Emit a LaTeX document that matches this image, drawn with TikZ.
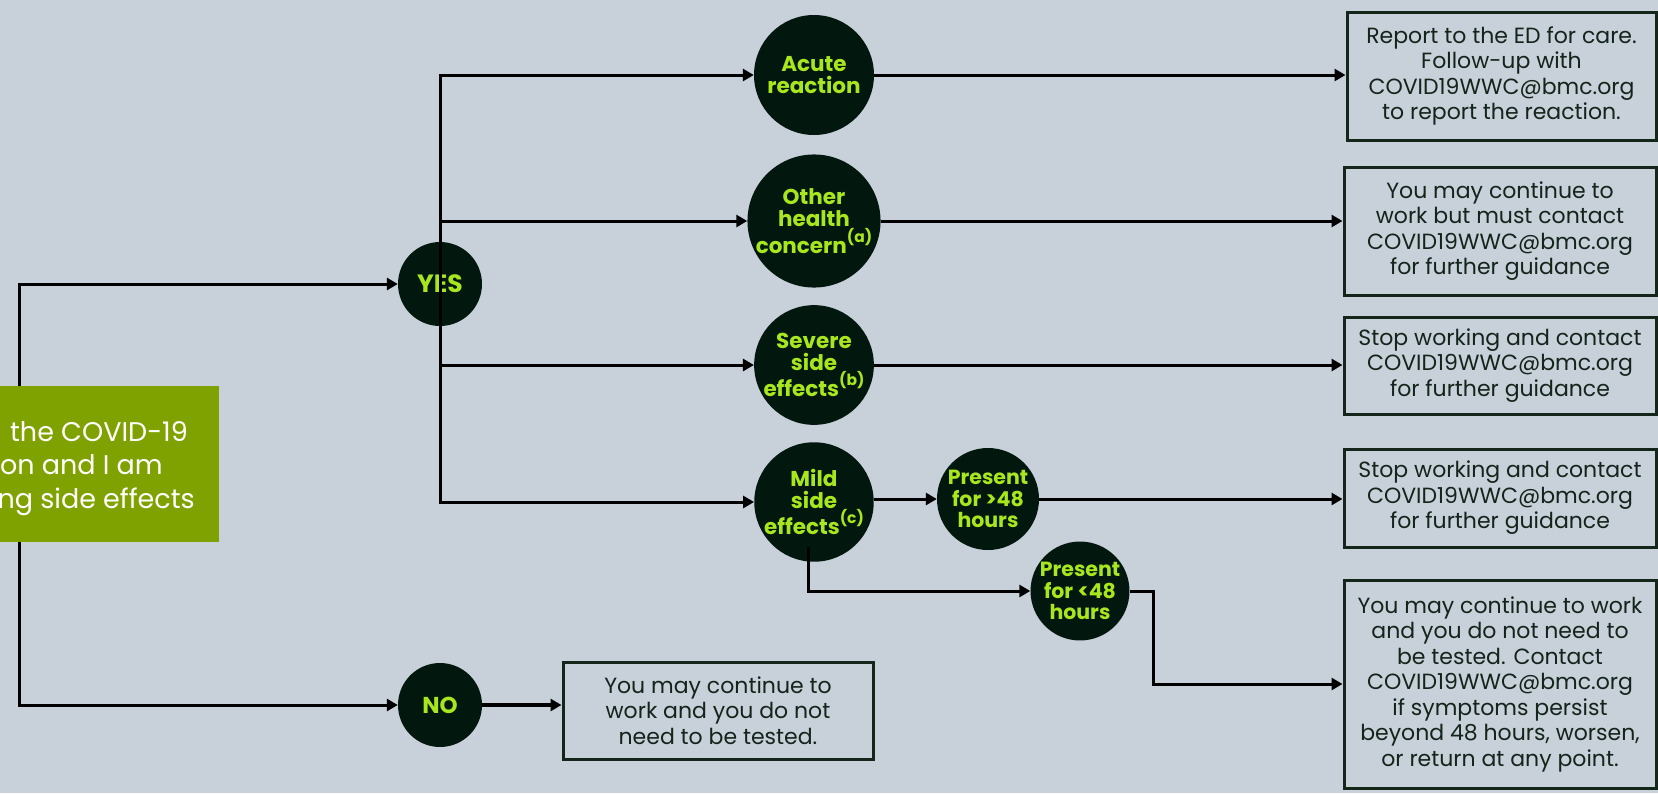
\documentclass[tikz,border=0pt]{standalone}
\usepackage{fontspec}
\setmainfont{Poppins}
\usetikzlibrary{arrows.meta}

\definecolor{canvasbg}{HTML}{C8D0DA}
\definecolor{nodefill}{HTML}{02180F}
\definecolor{limetext}{HTML}{A8E61D}
\definecolor{leaf}{HTML}{7FA200}
\definecolor{boxline}{HTML}{14261A}
\definecolor{boxtext}{HTML}{13241A}

% raised footnote marker inside a decision circle
\newcommand{\fnmark}[1]{\raisebox{11pt}{\fontsize{15.5}{15.5}\selectfont(#1)}}

\begin{document}
\begin{tikzpicture}[x=1pt,y=-1pt,
  choice/.style={circle, fill=nodefill, text=limetext, align=center, inner sep=0pt,
    minimum size=120pt, font=\bfseries\fontsize{21.5}{22.5}\selectfont},
  outcome/.style={draw=boxline, line width=3pt, text=boxtext, align=center, inner sep=0pt,
    font=\fontsize{22}{25.5}\selectfont},
  starttext/.style={text=white, inner sep=0pt, anchor=base east, font=\fontsize{27}{33}\selectfont},
  link/.style={line width=3pt},
  conn/.style={link, -{Triangle[length=11pt,width=12pt]}},
]
% canvas
\fill[canvasbg] (0,0) rectangle (1658,793);
\useasboundingbox (0,0) rectangle (1658,793);

% starting statement
\node[fill=leaf, minimum width=249pt, minimum height=156pt, inner sep=0pt, anchor=north east]
  (start) at (219,386) {};
\node[starttext] (startA) at (188,441) {the COVID-19};
\node[starttext] (startB) at (163,474) {on and I am};
\node[starttext] (startC) at (195,508) {ng side effects};
\coordinate (trunk) at (19,0);

% first level
\node[choice, minimum size=84pt, font=\bfseries\fontsize{25}{25}\selectfont] (yes) at (440,284) {YES};
\node[choice, minimum size=84pt, font=\bfseries\fontsize{23}{23}\selectfont] (no) at (440,705) {NO};

% second level
\node[choice] (acute) at (814,75) {Acute\\reaction};
\node[choice] (other) at (814,221) {Other\\health\\concern\fnmark{a}};
\node[choice, minimum size=118pt] (severe) at (814,365) {Severe\\side\\effects\fnmark{b}};
\node[choice, minimum size=118pt] (mild) at (814,502) {Mild\\side\\effects\fnmark{c}};

% third level
\node[choice, minimum size=102pt, font=\bfseries\fontsize{20.5}{21.5}\selectfont] (pgt) at (988,499) {Present\\for >48\\hours};
\node[choice, minimum size=98pt, font=\bfseries\fontsize{20.5}{21.5}\selectfont] (plt) at (1080,591) {Present\\for <48\\hours};

% outcomes
\node[outcome, minimum width=309pt, minimum height=128pt] (out1) at (1501.5,76)
  {Report to the ED for care.\\Follow-up with\\COVID19WWC@bmc.org\\to report the reaction.};
\node[outcome, minimum width=312pt, minimum height=128pt] (out2) at (1500,231)
  {You may continue to\\work but must contact\\COVID19WWC@bmc.org\\for further guidance};
\node[outcome, minimum width=312pt, minimum height=97pt] (out3) at (1500,365.5)
  {Stop working and contact\\COVID19WWC@bmc.org\\for further guidance};
\node[outcome, minimum width=312pt, minimum height=98pt] (out4) at (1500,498)
  {Stop working and contact\\COVID19WWC@bmc.org\\for further guidance};
\node[outcome, minimum width=312pt, minimum height=208pt] (out5) at (1500,684)
  {You may continue to work\\and you do not need to\\be tested. Contact\\COVID19WWC@bmc.org\\if symptoms persist\\beyond 48 hours, worsen,\\or return at any point.};
\node[outcome, minimum width=310pt, minimum height=97pt] (outno) at (718,710.5)
  {You may continue to\\work and you do not\\need to be tested.};

% connectors from the start
\draw[conn] (start.north -| trunk) |- (yes);
\draw[conn] (start.south -| trunk) |- (no);

% YES branches
\draw[link, line cap=rect] (yes |- acute) -- (yes |- mild);
\draw[conn] (yes |- acute) -- (acute);
\draw[conn] (yes |- other) -- (other);
\draw[conn] (yes |- severe) -- (severe);
\draw[conn] (yes |- mild) -- (mild);

% outcomes of each branch
\draw[conn] (acute.east) -- (acute.east -| out1.west);
\draw[conn] (other.east) -- (other.east -| out2.west);
\draw[conn] (severe.east) -- (severe.east -| out3.west);
\draw[conn] (mild.east |- pgt) -- (pgt.west);
\draw[conn] (pgt.east) -- (pgt.east -| out4.west);
\draw[conn] ([xshift=-6pt,yshift=15pt]mild.south) |- (plt.west);
\draw[conn] (plt.east) -- ++(24,0) |- (out5.west);

% NO branch
\draw[conn, line width=4pt] (no.east) -- (no.east -| outno.west);
\end{tikzpicture}
\end{document}
